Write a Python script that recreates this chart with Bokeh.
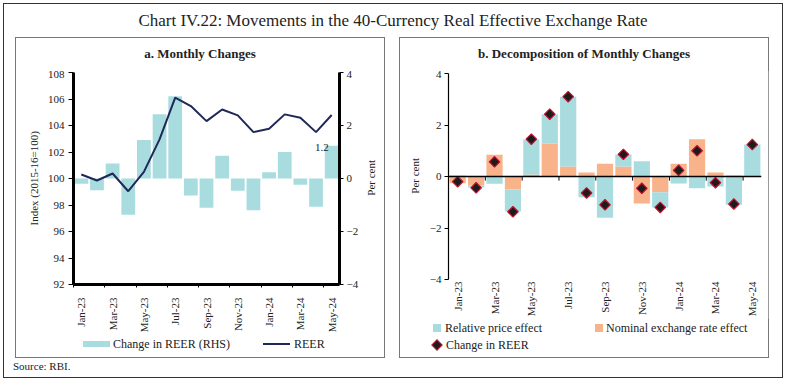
import math
from bokeh.plotting import figure
from bokeh.models import Range1d, LinearAxis, FixedTicker, Span, Div
from bokeh.layouts import row, column
from bokeh.embed import file_html
from bokeh.resources import INLINE
from bokeh.core.properties import value

# ---------------- data ----------------
months = ["Jan-23", "Feb-23", "Mar-23", "Apr-23", "May-23", "Jun-23", "Jul-23", "Aug-23",
          "Sep-23", "Oct-23", "Nov-23", "Dec-23", "Jan-24", "Feb-24", "Mar-24", "Apr-24", "May-24"]
reer_index = [100.3, 99.85, 100.38, 99.04, 100.5, 102.95, 106.1, 105.47, 104.33,
              105.21, 104.76, 103.5, 103.75, 104.84, 104.58, 103.5, 104.79]
reer_change = [-0.2, -0.44, 0.57, -1.37, 1.45, 2.42, 3.1, -0.64, -1.1,
               0.86, -0.46, -1.2, 0.24, 1.0, -0.24, -1.07, 1.24]
relative_price = [0.04, -0.08, -0.28, -0.86, 1.36, 1.15, 2.71, -0.81, -1.6,
                  0.46, 0.59, -0.59, -0.27, -0.46, -0.39, -1.1, 1.24]
nominal_rate = [-0.26, -0.35, 0.84, -0.5, 0.08, 1.27, 0.39, 0.16, 0.5,
                0.39, -1.05, -0.61, 0.5, 1.45, 0.16, 0.04, 0.0]
index_ticks = [92, 94, 96, 98, 100, 102, 104, 106, 108]
pct_ticks = [-4, -2, 0, 2, 4]

FONT = "Liberation Serif"
TEAL = "#a8dcdf"
ORANGE = "#f9b38b"
NAVY = "#1f2858"
TXT = "#222222"

idx = list(range(len(months)))
label_ticks = idx[::2]
overrides = {i: months[i] for i in label_ticks}
boundary_ticks = [i - 0.5 for i in label_ticks]
XR = (-0.5, len(months) - 0.5)


def style_axis(ax):
    ax.major_label_text_font = FONT
    ax.major_label_text_font_size = "11px"
    ax.major_label_text_color = TXT
    ax.minor_tick_line_color = None
    ax.major_tick_line_color = "black"
    ax.major_tick_in = 0


def vlabel(text, width, height, pad_left):
    html = ('<div style="width:%dpx;height:%dpx;display:flex;align-items:center;'
            'justify-content:flex-start;padding-left:%dpx;box-sizing:border-box;">'
            '<span style="writing-mode:vertical-rl;transform:rotate(180deg);white-space:nowrap;'
            'font-family:\'%s\';font-size:11px;color:%s;">%s</span></div>'
            % (width, height, pad_left, FONT, TXT, text))
    return Div(text=html, width=width, height=height, margin=0)


def html_div(inner, width, height):
    html = ('<div style="position:relative;width:%dpx;height:%dpx;font-family:\'%s\';'
            'font-size:12px;color:%s;">%s</div>' % (width, height, FONT, TXT, inner))
    return Div(text=html, width=width, height=height, margin=0)


def swatch(left, top, w, h, color, extra=""):
    return ('<span style="position:absolute;left:%spx;top:%spx;width:%spx;height:%spx;'
            'background:%s;%s"></span>' % (left, top, w, h, color, extra))


def label(left, top, text):
    return ('<span style="position:absolute;left:%dpx;top:%dpx;line-height:18px;'
            'white-space:nowrap;">%s</span>' % (left, top, text))


def panel_title(text):
    return Div(text=text, width=368, height=32, margin=0,
               styles={"font-family": FONT, "font-size": "13px", "font-weight": "bold",
                       "text-align": "center", "line-height": "32px", "color": TXT})


# ---------------- panel a ----------------
p1 = figure(frame_width=270, frame_height=212, output_backend="svg", toolbar_location=None,
            title=None, x_range=Range1d(*XR), y_range=Range1d(92, 108),
            min_border_left=31, min_border_right=18, min_border_top=2, min_border_bottom=50)
p1.extra_y_ranges = {"pct": Range1d(-4, 4)}
p1.grid.visible = False
p1.outline_line_color = None

p1.vbar(x=idx, top=reer_change, width=0.88, y_range_name="pct", fill_color=TEAL, line_color=None)
p1.line(x=idx, y=reer_index, line_color=NAVY, line_width=2)
p1.text(x=[idx[-1]], y=[reer_change[-1]], text=[f"{reer_change[-1]:.1f}"], y_range_name="pct",
        x_offset=-3, y_offset=2, text_align="right", text_baseline="middle",
        text_font=value(FONT), text_font_size="11px", text_color=TXT)

ly = p1.yaxis[0]
ly.ticker = FixedTicker(ticks=index_ticks)
style_axis(ly)
ly.axis_line_width = 3
ly.major_tick_out = 5
ly.major_label_standoff = 4

ry = LinearAxis(y_range_name="pct", ticker=FixedTicker(ticks=pct_ticks))
style_axis(ry)
ry.axis_line_width = 3
ry.major_tick_out = 4
ry.major_label_standoff = 3
p1.add_layout(ry, "right")

bx = p1.xaxis[0]
bx.ticker = FixedTicker(ticks=label_ticks, minor_ticks=boundary_ticks)
bx.major_label_overrides = overrides
bx.major_label_orientation = math.pi / 2
style_axis(bx)
bx.axis_line_width = 3
bx.major_tick_out = 0
bx.major_tick_line_color = None
bx.minor_tick_line_color = "black"
bx.minor_tick_out = 3
bx.minor_tick_in = 0
bx.major_label_standoff = 10

legend_a = html_div(
    swatch(67, 6, 27, 6, TEAL) + label(97, 0, "Change in REER (RHS)") +
    swatch(247, 8, 27, 2, NAVY) + label(278, 0, "REER"), 368, 18)

panel_a = column(
    panel_title("a. Monthly Changes"),
    row(vlabel("Index (2015-16=100)", 26, 216, 11), p1, vlabel("Per cent", 23, 216, 3), spacing=0),
    legend_a,
    spacing=0, width=368, height=319, styles={"outline": "1px solid #777"})

# ---------------- panel b ----------------
p2 = figure(frame_width=317, frame_height=206, output_backend="svg", toolbar_location=None,
            title=None, x_range=Range1d(*XR), y_range=Range1d(-4, 4),
            min_border_left=18, min_border_right=7, min_border_top=3, min_border_bottom=38)
p2.grid.visible = False
p2.outline_line_color = None

rel_bottom = [n if (n != 0 and (n > 0) == (r > 0)) else 0 for n, r in zip(nominal_rate, relative_price)]
rel_top = [b + r for b, r in zip(rel_bottom, relative_price)]

p2.vbar(x=idx, bottom=0, top=nominal_rate, width=0.88, fill_color=ORANGE, line_color=None)
p2.vbar(x=idx, bottom=rel_bottom, top=rel_top, width=0.88, fill_color=TEAL, line_color=None)
p2.add_layout(Span(location=0, dimension="width", line_color="black", line_width=1.5))
tick_len = 0.16
p2.segment(x0=boundary_ticks, x1=boundary_ticks, y0=[0] * len(boundary_ticks),
           y1=[-tick_len] * len(boundary_ticks), line_color="black", line_width=1)
p2.scatter(x=idx, y=reer_change, marker="square", angle=math.pi / 4, size=7.5,
           fill_color="#1c1c1c", line_color="#c8102e", line_width=1.2)

y2 = p2.yaxis[0]
y2.ticker = FixedTicker(ticks=pct_ticks)
style_axis(y2)
y2.axis_line_width = 1.2
y2.major_tick_out = 4
y2.major_label_standoff = 3

x2 = p2.xaxis[0]
x2.ticker = FixedTicker(ticks=label_ticks)
x2.major_label_overrides = overrides
x2.major_label_orientation = math.pi / 2
style_axis(x2)
x2.axis_line_color = None
x2.major_tick_line_color = None
x2.major_tick_out = 0
x2.major_label_standoff = 2

diamond_css = "transform:rotate(45deg);border:1.2px solid #c8102e;box-sizing:border-box;"
legend_b = html_div(
    swatch(33, 5, 8, 8, TEAL) + label(45, 0, "Relative price effect") +
    swatch(195, 5, 8, 8, ORANGE) + label(206, 0, "Nominal exchange rate effect") +
    swatch(33, 22, 8, 8, "#1c1c1c", diamond_css) + label(46, 17, "Change in REER"), 368, 40)

panel_b = column(
    panel_title("b. Decomposition of Monthly Changes"),
    row(vlabel("Per cent", 26, 212, 8), p2, spacing=0),
    legend_b,
    spacing=0, width=368, height=319, styles={"outline": "1px solid #777"})

# ---------------- page ----------------
title = Div(text="Chart IV.22: Movements in the 40-Currency Real Effective Exchange Rate",
            width=778, height=34, margin=0,
            styles={"font-family": FONT, "font-size": "17px", "text-align": "center",
                    "line-height": "34px", "color": TXT})
source = Div(text="Source: RBI.", width=760, height=20, margin=(0, 0, 0, 9),
             styles={"font-family": FONT, "font-size": "11px", "line-height": "18px", "color": TXT})
panels = row(panel_a, panel_b, spacing=16, margin=(0, 0, 0, 12))
root = column(title, panels, source, spacing=0, width=778, height=373,
              styles={"outline": "1px solid #333", "margin": "4px 0 0 4px"})

open("out.html", "w").write(file_html(root, INLINE))
